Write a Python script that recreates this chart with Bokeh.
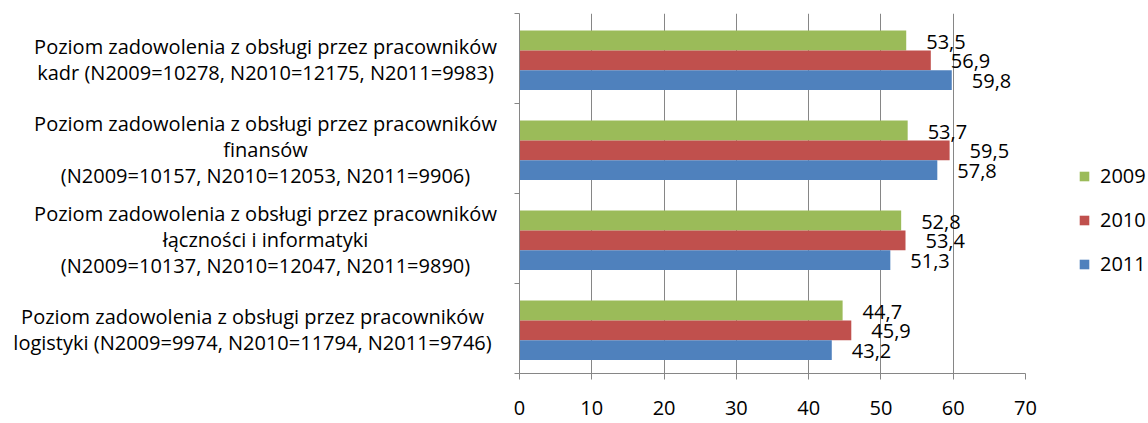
from bokeh.plotting import figure
from bokeh.layouts import row
from bokeh.models import (ColumnDataSource, LabelSet, Range1d, FixedTicker,
                          Legend, LegendItem)
from bokeh.core.properties import value
from bokeh.embed import file_html
from bokeh.resources import INLINE

categories = [
    "Poziom zadowolenia z obsługi przez pracowników\nkadr (N2009=10278, N2010=12175, N2011=9983)",
    "Poziom zadowolenia z obsługi przez pracowników\nfinansów\n(N2009=10157, N2010=12053, N2011=9906)",
    "Poziom zadowolenia z obsługi przez pracowników\nłączności i informatyki\n(N2009=10137, N2010=12047, N2011=9890)",
    "Poziom zadowolenia z obsługi przez pracowników\nlogistyki (N2009=9974, N2010=11794, N2011=9746)",
]
years = ["2009", "2010", "2011"]
v2009 = [53.5, 53.7, 52.8, 44.7]
v2010 = [56.9, 59.5, 53.4, 45.9]
v2011 = [59.8, 57.8, 51.3, 43.2]
x_ticks = [0, 10, 20, 30, 40, 50, 60, 70]
colors = ["#9BBB59", "#C0504D", "#4F81BD"]

FONT = "Open Sans"
n = len(categories)
centers = [n - 1 - i + 0.5 for i in range(n)]
bounds = list(range(n + 1))
bar_h = 0.22
y_range = Range1d(0, n)

# ---- left panel: category labels (blocks right-aligned near the axis, lines centred) ----
pl = figure(frame_width=511, frame_height=360, output_backend="svg",
            toolbar_location=None, x_range=Range1d(0, 1), y_range=y_range,
            min_border_left=0, min_border_right=0, min_border_top=13,
            min_border_bottom=0)
pl.axis.visible = False
pl.grid.visible = False
pl.outline_line_color = None
label_shift = [-246, -246, -246, -259]
cat_src = ColumnDataSource(dict(x=[1] * n, y=centers, t=categories, dx=label_shift))
pl.text(x="x", y="y", text="t", source=cat_src, x_offset="dx", y_offset=1,
        text_align="center", text_baseline="middle",
        text_font=value(FONT), text_font_size="20px", text_line_height=0.95,
        text_color="#000000")

# ---- main chart ----
p = figure(frame_width=506, frame_height=360, output_backend="svg",
           toolbar_location=None, x_range=Range1d(0, 70), y_range=y_range,
           min_border_left=8, min_border_top=13, min_border_right=123,
           min_border_bottom=50)
p.outline_line_color = None
p.background_fill_color = "white"
p.border_fill_color = "white"

renderers = []
series = [v2009, v2010, v2011]
for j, (yr, vals, col) in enumerate(zip(years, series, colors)):
    off = (1 - j) * bar_h - 0.02
    src = ColumnDataSource(dict(
        y=[c + off for c in centers],
        v=vals,
        lab=[f"{v:.1f}".replace(".", ",") for v in vals],
    ))
    r = p.hbar(y="y", right="v", left=0, height=bar_h, source=src,
               fill_color=col, line_color=None)
    renderers.append((yr, r))
    ls = LabelSet(x="v", y="y", text="lab", source=src, x_offset=20, y_offset=-1,
                  text_align="left", text_baseline="middle",
                  text_font=value(FONT), text_font_size="20px", text_color="#000000")
    p.add_layout(ls)

# x axis
xa = p.xaxis[0]
xa.ticker = FixedTicker(ticks=x_ticks)
xa.minor_tick_line_color = None
xa.major_tick_in = 0
xa.major_tick_out = 6
xa.axis_line_color = "#868686"
xa.major_tick_line_color = "#868686"
xa.major_label_text_font = FONT
xa.major_label_text_font_size = "20px"
xa.major_label_text_color = "#000000"
xa.major_label_standoff = 21

# y axis: only tick marks at category boundaries
ya = p.yaxis[0]
ya.ticker = FixedTicker(ticks=bounds)
ya.major_label_text_font_size = "0px"
ya.major_label_standoff = 0
ya.minor_tick_line_color = None
ya.major_tick_in = 0
ya.major_tick_out = 5
ya.major_tick_line_color = "#868686"
ya.axis_line_color = "#868686"
ya.major_label_overrides = {b: "" for b in bounds}

p.xgrid.grid_line_color = "#868686"
p.xgrid.ticker = FixedTicker(ticks=x_ticks)
p.ygrid.grid_line_color = None

legend = Legend(items=[LegendItem(label=yr, renderers=[r]) for yr, r in renderers],
                location=(53, 96))
legend.glyph_width = 12
legend.glyph_height = 12
legend.label_standoff = 10
legend.spacing = 17
legend.padding = 0
legend.margin = 0
legend.border_line_color = None
legend.background_fill_alpha = 0
legend.label_text_font = FONT
legend.label_text_font_size = "20px"
legend.label_text_color = "#000000"
p.add_layout(legend, "right")

layout = row(pl, p, spacing=0)
open("out.html", "w").write(file_html(layout, INLINE))
